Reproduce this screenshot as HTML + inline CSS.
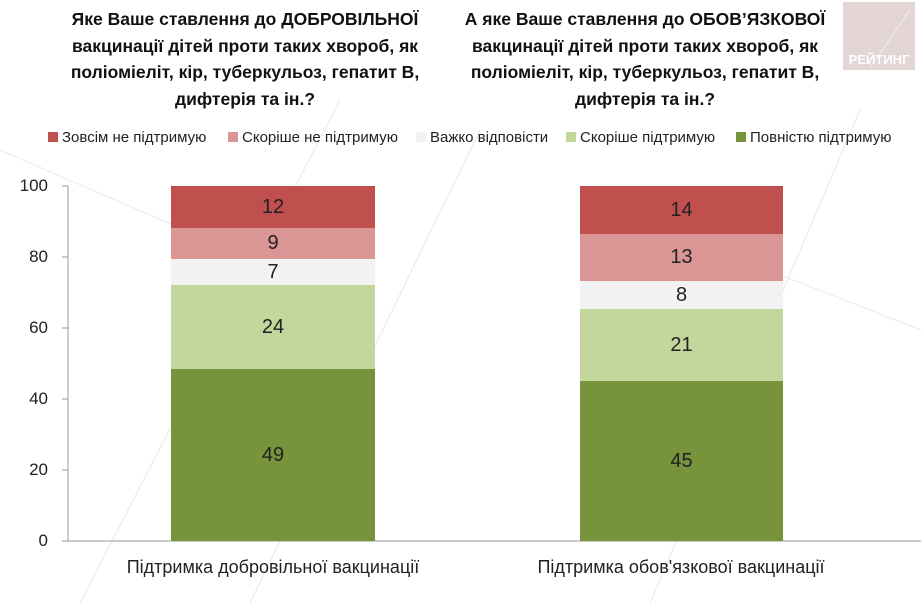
<!DOCTYPE html>
<html><head><meta charset="utf-8"><style>
body{margin:0;width:921px;height:603px;background:#fff;position:relative;overflow:hidden;font-family:"Liberation Sans",Arial,sans-serif;}
.t{position:absolute;font-weight:bold;font-size:17.5px;line-height:26.5px;text-align:center;color:#111;}
.lg{position:absolute;top:129px;font-size:15px;color:#222;white-space:nowrap}
.lg i{display:inline-block;width:10px;height:10px;margin-right:4px;vertical-align:0px}
.ax{position:absolute;font-size:17px;color:#222;text-align:right;width:40px;left:8px}
.s{position:absolute;display:flex;align-items:center;justify-content:center;font-size:20px;color:#222}
.c{position:absolute;top:557px;font-size:18px;color:#222;text-align:center;width:400px}
</style></head><body>
<svg style="position:absolute;left:0;top:0" width="921" height="603">
<g stroke="#ececec" stroke-width="1.2" fill="none">
<line x1="250" y1="603" x2="480" y2="130"/><line x1="650" y1="603" x2="860" y2="110"/>
<line x1="0" y1="150" x2="300" y2="280"/><line x1="640" y1="220" x2="921" y2="330"/>
<line x1="80" y1="603" x2="340" y2="100"/>
</g>
<rect x="843" y="2" width="72" height="68" fill="#e3d5d5"/>
<line x1="870" y1="68" x2="910" y2="10" stroke="#eee" stroke-width="1"/>
<text x="879" y="64" font-size="13" font-weight="bold" fill="#fff" text-anchor="middle" font-family="Liberation Sans,sans-serif">РЕЙТИНГ</text>
<line x1="68" y1="186" x2="68" y2="541" stroke="#999"/>
<g stroke="#999"><line x1="62" y1="186" x2="68" y2="186"/><line x1="62" y1="257" x2="68" y2="257"/><line x1="62" y1="328" x2="68" y2="328"/><line x1="62" y1="399" x2="68" y2="399"/><line x1="62" y1="470" x2="68" y2="470"/><line x1="62" y1="541" x2="921" y2="541"/></g>
</svg>
<div class="t" style="left:40px;width:410px;top:6px">Яке Ваше ставлення до ДОБРОВІЛЬНОЇ<br>вакцинації дітей проти таких хвороб, як<br>поліоміеліт, кір, туберкульоз, гепатит В,<br>дифтерія та ін.?</div>
<div class="t" style="left:440px;width:410px;top:6px">А яке Ваше ставлення до ОБОВ’ЯЗКОВОЇ<br>вакцинації дітей проти таких хвороб, як<br>поліоміеліт, кір, туберкульоз, гепатит В,<br>дифтерія та ін.?</div>
<div class="lg" style="left:48px"><i style="background:#C0504D"></i>Зовсім не підтримую</div>
<div class="lg" style="left:228px"><i style="background:#D99694"></i>Скоріше не підтримую</div>
<div class="lg" style="left:416px"><i style="background:#F2F2F2"></i>Важко відповісти</div>
<div class="lg" style="left:566px"><i style="background:#C3D69B"></i>Скоріше підтримую</div>
<div class="lg" style="left:736px"><i style="background:#77933C"></i>Повністю підтримую</div>
<div class="ax" style="top:176px">100</div><div class="ax" style="top:247px">80</div><div class="ax" style="top:318px">60</div><div class="ax" style="top:389px">40</div><div class="ax" style="top:460px">20</div><div class="ax" style="top:531px">0</div>
<div class="s" style="left:171px;width:204px;top:186px;height:42px;background:#C0504D">12</div>
<div class="s" style="left:171px;width:204px;top:228px;height:31px;background:#D99694">9</div>
<div class="s" style="left:171px;width:204px;top:259px;height:26px;background:#F2F2F2">7</div>
<div class="s" style="left:171px;width:204px;top:285px;height:84px;background:#C3D69B">24</div>
<div class="s" style="left:171px;width:204px;top:369px;height:172px;background:#77933C">49</div>
<div class="s" style="left:580px;width:203px;top:186px;height:48px;background:#C0504D">14</div>
<div class="s" style="left:580px;width:203px;top:234px;height:47px;background:#D99694">13</div>
<div class="s" style="left:580px;width:203px;top:281px;height:28px;background:#F2F2F2">8</div>
<div class="s" style="left:580px;width:203px;top:309px;height:72px;background:#C3D69B">21</div>
<div class="s" style="left:580px;width:203px;top:381px;height:160px;background:#77933C">45</div>
<div class="c" style="left:73px">Підтримка добровільної вакцинації</div>
<div class="c" style="left:481px">Підтримка обов'язкової вакцинації</div>
</body></html>
